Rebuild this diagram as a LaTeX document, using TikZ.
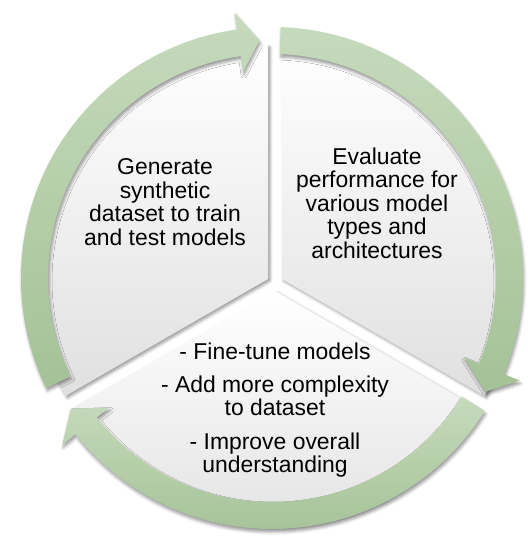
\documentclass[tikz,border=0pt]{standalone}
\usepackage{fontspec}
\setmainfont{Liberation Sans}
\usetikzlibrary{calc, shadows.blur}

\definecolor{ringlight}{RGB}{198,218,188}
\definecolor{ringdark}{RGB}{164,194,150}
\definecolor{slicegray}{RGB}{224,224,224}

\begin{document}
\begin{tikzpicture}[
    x = 1bp, y = 1bp,
    slice/.style = {top color = white,
      bottom color = slicegray,
      blur shadow = {shadow xshift = 2bp, shadow yshift = -2bp,
        shadow blur radius = 3bp}},
    ring/.style = {top color = ringlight,
      bottom color = ringdark,
      blur shadow = {shadow xshift = 1bp, shadow yshift = -3bp,
        shadow blur radius = 3bp}},
    phase/.style = {align = center,
      font = \fontsize{23}{23.5}\selectfont}
    ]
    \useasboundingbox (0, 0) rectangle (528, 540);

    \coordinate (hub) at (275, 257);
    \coordinate (ringc) at (272, 262);

    % the three segments, pulled slightly apart
    \path [slice] ($(hub) + (150:8)$) -- ++(90:234)
      arc [start angle = 90, end angle = 210, radius = 234] -- cycle;
    \path [slice] ($(hub) + (30:8)$) -- ++(-30:234)
      arc [start angle = -30, end angle = 90, radius = 234] -- cycle;
    \path [slice] ($(hub) + (270:8)$) -- ++(210:234)
      arc [start angle = 210, end angle = 330, radius = 234] -- cycle;

    % arrows round the outside
    \path [ring, shift = {(ringc)}] (206:224)
      arc [start angle = 206, end angle = 98, radius = 224]
      -- (98:208) -- (93:238) -- (98:268) -- (98:251)
      arc [start angle = 98, end angle = 206, radius = 251] -- cycle;
    \path [ring, shift = {(ringc)}] (88:224)
      arc [start angle = 88, end angle = -22.5, radius = 224]
      -- (-22.5:208) -- (-28:242) -- (-22.5:268) -- (-22.5:251)
      arc [start angle = -22.5, end angle = 88, radius = 251] -- cycle;
    \path [ring, shift = {(ringc)}] (-32:224)
      arc [start angle = -32, end angle = -141.5, radius = 224]
      -- (-141.5:208) -- (-147:240) -- (-141.5:268) -- (-141.5:251)
      arc [start angle = -141.5, end angle = -32, radius = 251] -- cycle;

    \node at (165, 338) [phase, name = generate]
      {Generate\\synthetic\\dataset to train\\and test models};
    \node at (377, 337) [phase, name = evaluate]
      {Evaluate\\performance for\\various model\\types and\\architectures};
    \node at (275, 130) [phase, name = refine]
      {- Fine-tune models\\[10bp]- Add more complexity\\to dataset\\[10bp]- Improve overall\\understanding};

  \end{tikzpicture}
\end{document}
